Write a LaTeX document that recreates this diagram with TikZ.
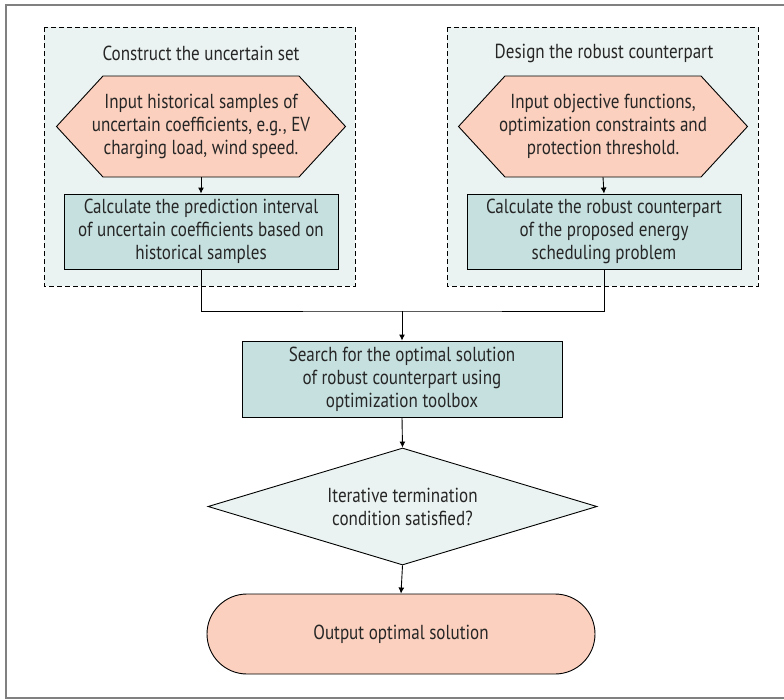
\documentclass[tikz,border=0pt]{standalone}
\usepackage{fontspec}
\setmainfont{PT Sans}[FakeStretch=0.84]
\usetikzlibrary{shapes.geometric,arrows.meta}
\definecolor{salmon}{HTML}{FBD0BE}
\definecolor{tealbox}{HTML}{C6E0DF}
\definecolor{mist}{HTML}{EAF3F1}
\definecolor{framegray}{HTML}{808080}
\tikzset{
  txt/.style={font=\fontsize{20.3}{23}\selectfont, text=black!85, align=center},
  calcbox/.style={txt, draw, line width=.9pt, fill=tealbox, minimum width=274pt, minimum height=75pt, inner sep=0pt},
  inbox/.style={txt, minimum width=289pt, minimum height=101pt, inner sep=0pt},
  inshape/.style={draw, line width=.9pt, fill=salmon},
  group/.style={draw, dash pattern=on 5pt off 3pt, line width=.9pt, fill=mist},
  arr/.style={line width=.9pt, -{Latex[length=6pt,width=6pt]}}
}
\begin{document}
\begin{tikzpicture}[x=1pt,y=-1pt]
  \useasboundingbox (0,0) rectangle (784,699);
  \draw[framegray, line width=1.6pt] (800,5) -- (6,5) -- (6,698) -- (800,698);
  % dashed groups and input hexagons
  \foreach \gx in {0,403}
    \draw[group] (44+\gx,27) rectangle (355+\gx,286);
  \foreach \hx in {201,603}
    \draw[inshape] (\hx-144.5,126.5) -- (\hx-98,76) -- (\hx+98,76) -- (\hx+144.5,126.5) -- (\hx+98,177) -- (\hx-98,177) -- cycle;
  \node[txt] (headL) at (201,53) {Construct the uncertain set};
  \node[txt] (headR) at (604,53) {Design the robust counterpart};
  \node[inbox] (inputL) at (201,126.5) {Input historical samples of\\uncertain coefficients, e.g., EV\\charging load, wind speed.};
  \node[inbox] (inputR) at (603,126.5) {Input objective functions,\\optimization constraints and\\protection threshold.};
  \node[calcbox] (calcL) at (201,231.5) {Calculate the prediction interval\\of uncertain coefficients based on\\historical samples};
  \node[calcbox] (calcR) at (604,231.5) {Calculate the robust counterpart\\of the proposed energy\\scheduling problem};
  \coordinate (join) at (402,311);
  \node[calcbox, minimum width=320pt, minimum height=76pt] (search) at (402,379) {Search for the optimal solution\\of robust counterpart using\\optimization toolbox};
  \node[txt, draw, line width=.9pt, fill=mist, diamond, aspect=3.3, minimum width=389pt, minimum height=117pt, inner sep=0pt] (stop) at (402.5,506.5) {Iterative termination\\condition satisfied?};
  \node[txt, draw, line width=.9pt, fill=salmon, rounded corners=40pt, minimum width=388pt, minimum height=80pt] (out) at (401,634) {Output optimal solution};
  \draw[arr] (inputL.south) -- (calcL.north);
  \draw[arr] (inputR.south) -- (calcR.north);
  \draw[line width=.9pt] (calcL.south) |- (join) -| (calcR.south);
  \draw[arr] (join) -- (search.north);
  \draw[arr] (search.south) -- (stop.north);
  \draw[arr] (stop.south) -- (out.north);
\end{tikzpicture}
\end{document}
